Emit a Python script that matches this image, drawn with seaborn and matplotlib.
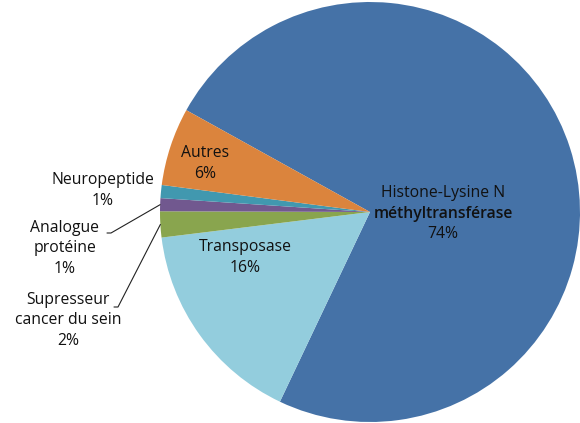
import numpy as np
import seaborn as sns
import matplotlib.pyplot as plt

# slices, in the order they are drawn (clockwise)
categories = ["Histone-Lysine N\nméthyltransférase", "Transposase",
              "Supresseur\ncancer du sein", "Analogue\nprotéine",
              "Neuropeptide", "Autres"]
shares = [74, 16, 2, 1, 1, 6]
colors = ["#4572A7", "#93CDDD", "#89A54E", "#71588F", "#4198AF", "#DB843D"]

# label placement (pixel coords, y from top) and whether a leader line is drawn
label_pos = {
    "Histone-Lysine N\nméthyltransférase": (443, 193),
    "Transposase": (245, 247),
    "Supresseur\ncancer du sein": (68, 300),
    "Analogue\nprotéine": (65, 228),
    "Neuropeptide": (103, 180),
    "Autres": (205, 153),
}
leader_start = {
    "Supresseur\ncancer du sein": (114, 307),
    "Analogue\nprotéine": (107, 233),
}

W, H = 580, 423
cx, cy, R = 370, 212, 210

sns.set_theme(style="white")
plt.rcParams["font.family"] = ["Open Sans", "DejaVu Sans"]
pal = sns.color_palette(colors)

fig = plt.figure(figsize=(W / 100, H / 100), dpi=100)
ax = fig.add_axes([0, 0, 1, 1])

wedges, _ = ax.pie(shares, colors=pal, startangle=151, counterclock=False,
                   center=(cx, H - cy), radius=R,
                   wedgeprops=dict(linewidth=0))
ax.set_xlim(0, W)
ax.set_ylim(0, H)
ax.set_aspect("equal")
ax.axis("off")

fs = 11.3
step = 20.5
for w, name, val in zip(wedges, categories, shares):
    x, y = label_pos[name]
    lines = name.split("\n") + [f"{val}%"]
    for i, line in enumerate(lines):
        weight = "semibold" if line == "méthyltransférase" else "normal"
        ax.text(x, H - (y + i * step), line, ha="center", va="center",
                fontsize=fs, color="#111111", fontweight=weight)
    if name in leader_start:
        mid = np.deg2rad((w.theta1 + w.theta2) / 2)
        ex = cx + R * np.cos(mid)
        ey = (H - cy) + R * np.sin(mid)
        sx, sy = leader_start[name]
        ax.plot([sx, sx + 4, ex], [H - sy, H - sy, ey], color="#222222", lw=0.8)

fig.savefig("out.png", dpi=100)
